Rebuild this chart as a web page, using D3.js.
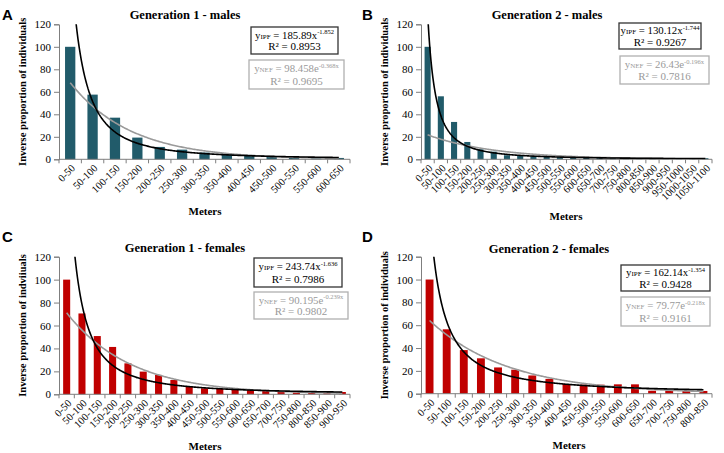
<!DOCTYPE html>
<html>
<head>
<meta charset="utf-8">
<script src="https://cdn.jsdelivr.net/npm/d3@7"></script>
<style>
  html, body { margin: 0; padding: 0; background: #fff; }
  svg { display: block; }
</style>
</head>
<body>
<div id="chart"></div>
<script>
const BINS = ['0-50', '50-100', '100-150', '150-200', '200-250', '250-300', '300-350', '350-400',
  '400-450', '450-500', '500-550', '550-600', '600-650', '650-700', '700-750', '750-800',
  '800-850', '850-900', '900-950', '950-1000', '1000-1050', '1050-1100'];

const G1_MALES = [100, 57.5, 37, 19.3, 11, 8.6, 6, 5, 3.9, 2.7, 2.4, 2, 1.2];
const G2_MALES = [100, 56, 33.2, 15.4, 8.9, 6.8, 3.6, 3.6, 3, 2.4, 2.2, 2, 1.6, 1.5, 1.2, 1, 1, 1, 1, 1, 1, 1];
const G1_FEMALES = [100, 70.5, 50.8, 41.3, 27, 19.8, 16.9, 12.5, 6.7, 5.2, 4.9, 4.6, 4.4, 3.2, 2.6, 1.7, 1.5, 1.2, 2];
const G2_FEMALES = [100, 56.4, 38.2, 31, 23, 21, 16, 13, 8.5, 7.9, 7.9, 8.2, 8.2, 2.6, 2.6, 2.4, 2.4];

// trendline coefficients as printed on the chart [a, b]
const POWER_FITS = [[185.89, -1.852], [130.12, -1.744], [243.74, -1.636], [162.14, -1.354]];
const EXP_FITS = [[98.458, -0.368], [26.43, -0.196], [90.195, -0.239], [79.77, -0.218]];
const POWER_R2 = ['0.8953', '0.9267', '0.7986', '0.9428'];
const EXP_R2 = ['0.9695', '0.7816', '0.9802', '0.9161'];
const POWER_LABELS = ['185.89x', '130.12x', '243.74x', '162.14x'];
const POWER_EXPS = ['-1.852', '-1.744', '-1.636', '-1.354'];
const EXP_LABELS = ['98.458e', '26.43e', '90.195e', '79.77e'];
const EXP_EXPS = ['-0.368x', '-0.196x', '-0.239x', '-0.218x'];

const TITLES = ['Generation 1 - males', 'Generation 2 - males', 'Generation 1 - females', 'Generation 2 - females'];
const LETTERS = ['A', 'B', 'C', 'D'];
const Y_LABELS = ['Inverse proportion of individuals', 'Inverse proportion of individuals',
  'Inverse proportion of indviiuals', 'Inverse proportion of individuals'];
const Y_TICKS = [0, 20, 40, 60, 80, 100, 120];

const SERIF = '"Liberation Serif", "Times New Roman", serif';
const TEAL = '#215b6a';
const RED = '#c00000';

const W = 724, H = 453;
const svg = d3.select('#chart').append('svg').attr('width', W).attr('height', H)
  .attr('font-family', SERIF);

const panels = [
  { values: G1_MALES, color: TEAL, left: 59, right: 350, top: 24.3, bottom: 159.3, titleX: 185, titleY: 19, letterX: 2, letterY: 20,
    meterX: 205, meterY: 215, box1: [251, 27, 87, 27], box2: [249, 60, 95, 29] },
  { values: G2_MALES, color: TEAL, left: 421, right: 712, top: 24.3, bottom: 159.3, titleX: 547, titleY: 19, letterX: 362, letterY: 20,
    meterX: 566, meterY: 220, box1: [619, 23, 82, 26], box2: [620, 56, 89, 28] },
  { values: G1_FEMALES, color: RED, left: 59, right: 350, top: 256.7, bottom: 394.3, titleX: 185, titleY: 252, letterX: 2, letterY: 242,
    meterX: 205, meterY: 450, box1: [254, 258, 88, 29], box2: [254, 292, 94, 27] },
  { values: G2_FEMALES, color: RED, left: 421, right: 712, top: 256.7, bottom: 393.7, titleX: 549, titleY: 253, letterX: 362, letterY: 242,
    meterX: 569, meterY: 449, box1: [621, 265, 89, 26], box2: [621, 297, 89, 29] },
];

panels.forEach((p, i) => {
  const cats = BINS.slice(0, p.values.length);
  const g = svg.append('g');

  const x = d3.scaleBand().domain(cats).range([p.left, p.right]).paddingInner(0.54).paddingOuter(0.27);
  const y = d3.scaleLinear().domain([0, 120]).range([p.bottom, p.top]);
  const step = x.step();
  // continuous x for trendlines: index 1..n at band centres
  const xi = d3.scaleLinear().domain([1, cats.length])
    .range([x(cats[0]) + x.bandwidth() / 2, x(cats[cats.length - 1]) + x.bandwidth() / 2]);

  // letter + title
  g.append('text').attr('x', p.letterX).attr('y', p.letterY)
    .attr('font-family', '"Liberation Sans", Arial, sans-serif').attr('font-weight', 700).attr('font-size', 15)
    .text(LETTERS[i]);
  g.append('text').attr('x', p.titleX).attr('y', p.titleY).attr('text-anchor', 'middle')
    .attr('font-weight', 700).attr('font-size', 12.5).text(TITLES[i]);

  // bars
  g.selectAll('rect.bar').data(p.values).join('rect')
    .attr('class', 'bar')
    .attr('x', (d, j) => x(cats[j]))
    .attr('y', (d) => y(d))
    .attr('width', x.bandwidth())
    .attr('height', (d) => y(0) - y(d))
    .attr('fill', p.color);

  // y axis
  const yAxis = g.append('g').attr('transform', `translate(${p.left},0)`)
    .call(d3.axisLeft(y).tickValues(Y_TICKS).tickSize(5).tickPadding(3));
  yAxis.select('.domain').attr('stroke', '#7f7f7f');
  yAxis.selectAll('.tick line').attr('stroke', '#7f7f7f');
  yAxis.selectAll('.tick text').attr('font-family', SERIF).attr('font-size', 11).attr('fill', '#000');

  // x axis: ticks between categories
  const edges = d3.range(cats.length + 1).map((k) => p.left + k * step);
  g.append('line').attr('x1', p.left).attr('x2', p.right).attr('y1', y(0)).attr('y2', y(0))
    .attr('stroke', '#7f7f7f');
  g.selectAll('line.xt').data(edges).join('line').attr('class', 'xt')
    .attr('x1', (d) => d).attr('x2', (d) => d).attr('y1', y(0)).attr('y2', y(0) + 4)
    .attr('stroke', '#7f7f7f');
  g.selectAll('text.xl').data(cats).join('text').attr('class', 'xl')
    .attr('transform', (d) => `translate(${x(d) + x.bandwidth() / 2 + 3},${y(0) + 7}) rotate(-45)`)
    .attr('text-anchor', 'end').attr('dy', '0.35em').attr('font-size', 10.5)
    .text((d) => d);

  // trendlines
  const clipId = `clip${i}`;
  g.append('clipPath').attr('id', clipId).append('rect')
    .attr('x', p.left).attr('y', p.top).attr('width', p.right - p.left).attr('height', p.bottom - p.top);
  const ts = d3.range(1, cats.length + 0.001, 0.05);
  const line = d3.line().x((d) => xi(d[0])).y((d) => y(d[1])).curve(d3.curveLinear);
  const [ea, eb] = EXP_FITS[i];
  const [pa, pb] = POWER_FITS[i];
  g.append('path').attr('clip-path', `url(#${clipId})`)
    .attr('d', line(ts.map((t) => [t, ea * Math.exp(eb * t)])))
    .attr('fill', 'none').attr('stroke', '#9a9a9a').attr('stroke-width', 1.6);
  g.append('path').attr('clip-path', `url(#${clipId})`)
    .attr('d', line(ts.map((t) => [t, Math.min(130, pa * Math.pow(t, pb))])))
    .attr('fill', 'none').attr('stroke', '#000').attr('stroke-width', 1.6);

  // equation boxes
  const drawBox = (b, stroke, fill, sub, main, sup, r2) => {
    g.append('rect').attr('x', b[0]).attr('y', b[1]).attr('width', b[2]).attr('height', b[3])
      .attr('fill', '#fff').attr('stroke', stroke).attr('stroke-width', 1.3);
    const cx = b[0] + b[2] / 2;
    const t = g.append('text').attr('x', cx).attr('y', b[1] + b[3] * 0.43).attr('text-anchor', 'middle')
      .attr('font-size', 10.8).attr('fill', fill);
    t.append('tspan').text('y');
    t.append('tspan').attr('font-size', 7).text(sub);
    t.append('tspan').text(' = ' + main);
    t.append('tspan').attr('font-size', 6.5).attr('dy', -4.5).text(sup);
    g.append('text').attr('x', cx).attr('y', b[1] + b[3] * 0.87).attr('text-anchor', 'middle')
      .attr('font-size', 11).attr('fill', fill).text('R² = ' + r2);
  };
  drawBox(p.box1, '#333', '#000', 'IPF', POWER_LABELS[i], POWER_EXPS[i], POWER_R2[i]);
  drawBox(p.box2, '#b0b0b0', '#9a9a9a', 'NEF', EXP_LABELS[i], EXP_EXPS[i], EXP_R2[i]);

  // axis titles
  const midY = (p.top + p.bottom) / 2;
  g.append('text').attr('transform', `translate(${p.left - 33},${midY}) rotate(-90)`)
    .attr('text-anchor', 'middle').attr('font-weight', 700).attr('font-size', 10.5)
    .text(Y_LABELS[i]);
  g.append('text').attr('x', p.meterX).attr('y', p.meterY).attr('text-anchor', 'middle')
    .attr('font-weight', 700).attr('font-size', 11).text('Meters');
});
</script>
</body>
</html>
